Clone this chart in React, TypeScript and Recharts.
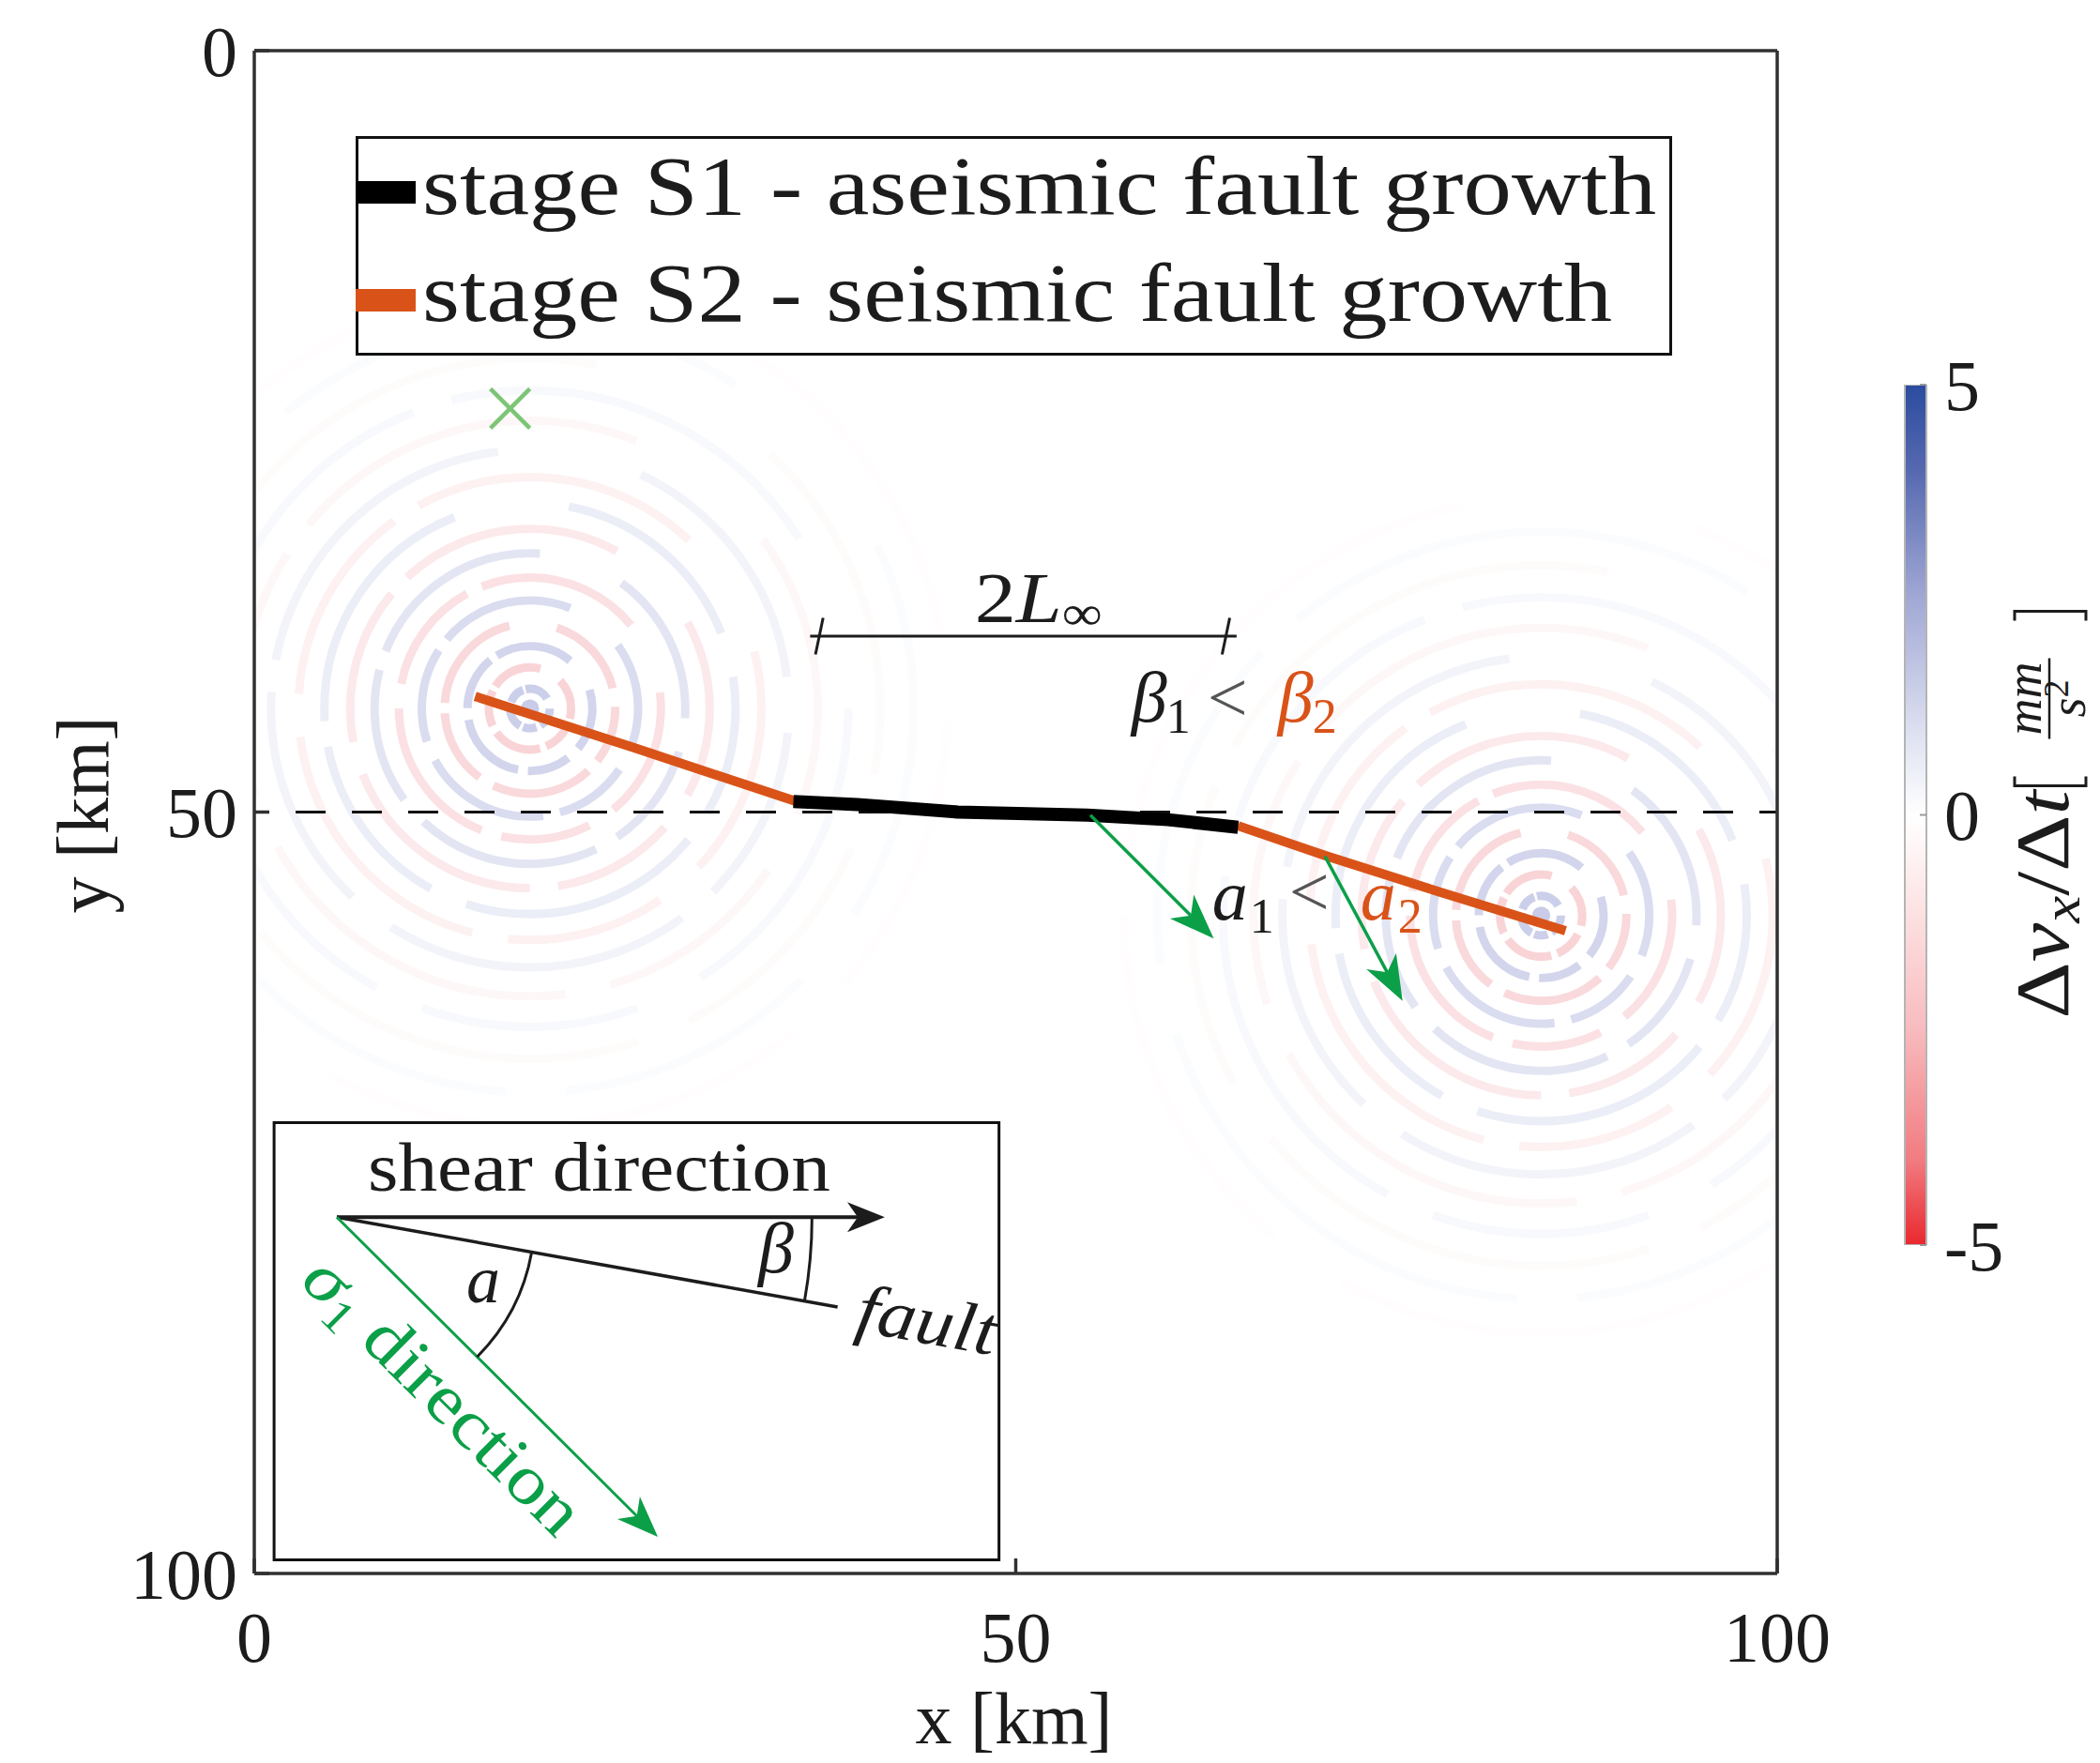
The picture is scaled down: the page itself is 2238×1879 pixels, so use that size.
import React from 'react';
import {
  ComposedChart,
  Line,
  Scatter,
  Bar,
  XAxis,
  YAxis,
  ReferenceLine,
  ReferenceArea,
  ReferenceDot,
  Legend,
} from 'recharts';

const SERIF = '"Liberation Serif", "Times New Roman", serif';
const INK = '#1c1c1c';
const FRAME = '#303030';
const ORANGE = '#d95319';
const GREEN = '#0b9f48';
const MARK_GREEN = '#7cc576';
const WAVE_BLUE = '#c3c7e6';
const WAVE_RED = '#f7c9cc';

const W = 2000;
const H = 1879;
const KM = 16.23; // px per km, 1623 px plot for 100 km on both axes

const axisTicks = [0, 50, 100];
const midTicks = [50];
const cbTicks = [-5, 0, 5];

// fault traces (km)
const s2West = [
  { x: 14.5, y: 42.4 },
  { x: 25.0, y: 45.8 },
  { x: 35.6, y: 49.3 },
];
const s1Trace = [
  { x: 35.4, y: 49.3 },
  { x: 39.6, y: 49.5 },
  { x: 46.2, y: 50.0 },
  { x: 54.7, y: 50.2 },
  { x: 60.0, y: 50.5 },
  { x: 64.6, y: 51.0 },
];
const s2East = [
  { x: 64.6, y: 50.9 },
  { x: 70.3, y: 52.85 },
  { x: 78.0, y: 55.3 },
  { x: 86.1, y: 57.8 },
];

// sigma_1 arrows drawn from the fault
const sigmaArrows = [
  { from: { x: 54.9, y: 50.2 }, to: { x: 63.0, y: 58.3 } },
  { from: { x: 70.3, y: 52.9 }, to: { x: 75.4, y: 62.4 } },
];

const hypocentre = [{ x: 16.8, y: 23.5 }];

// radiated waves around both crack tips
const waveSources = [
  { x: 18.1, y: 43.2 },
  { x: 84.5, y: 56.8 },
];
const ringRadius = [1.3, 2.7, 4.1, 5.6, 7.1, 8.6, 10.2, 11.8, 13.5, 15.2, 17.0, 18.9, 20.9, 23.0, 25.2, 27.4];
const ringSign = [1, -1, 1, -1, 1, -1, 1, -1, 1, -1, 1, -1, 1, -1, 1, -1];
const ringLevel = [0.85, 0.8, 0.75, 0.7, 0.62, 0.55, 0.47, 0.4, 0.33, 0.26, 0.2, 0.15, 0.11, 0.08, 0.06, 0.045];
const ringPhase = [0.0, 0.12, 0.05, 0.2, 0.1, 0.02, 0.15, 0.08, 0.22, 0.04, 0.18, 0.1, 0.0, 0.13, 0.07, 0.19];
// broken-arc pattern as fractions of one ring circumference
const ringBreaks = [0.16, 0.035, 0.11, 0.025, 0.19, 0.03, 0.14, 0.02, 0.2, 0.09];

// 2L_inf span bar
const spanEnds = [36.5, 64.5];
const spanY = 38.45;
const spanTicks = [37.1, 63.8];

// inset sketch (km)
const insetBox = { x1: 1.3, x2: 48.9, y1: 70.4, y2: 99.1 };
const insetOrigin = { x: 5.42, y: 76.6 };
const insetShearTip = { x: 41.4, y: 76.6 };
const insetFaultEnd = { x: 38.3, y: 82.5 };
const insetSigmaTip = { x: 26.5, y: 97.6 };
const alphaArcKm = 13.0;
const betaArcKm = 31.2;

// text anchors (km)
const spanLabelAt = { x: 47.3, y: 37.5 };
const betaLabelAt = { x: 57.6, y: 44.05 };
const alphaLabelAt = { x: 62.9, y: 57.05 };
const shearLabelAt = { x: 22.64, y: 74.86 };
const insetAlphaAt = { x: 13.92, y: 82.19 };
const insetBetaAt = { x: 33.09, y: 80.22 };
const faultLabelAt = { x: 39.37, y: 84.04 };
const sigmaLabelAt = { x: 2.9, y: 80.9 };

const legendTextLength = [1315, 1268];

// colour bar
const colorbarData = [{ name: 'dvx', range: [-5, 5] }];
const colorStops = [
  ['0%', '#2b4c9f'],
  ['10%', '#5669b0'],
  ['25%', '#a2a9d5'],
  ['40%', '#dcdff0'],
  ['50%', '#ffffff'],
  ['60%', '#fde5e6'],
  ['75%', '#f8bbbe'],
  ['90%', '#f17c81'],
  ['100%', '#e9282e'],
];

const faultAngle = Math.atan2(insetFaultEnd.y - insetOrigin.y, insetFaultEnd.x - insetOrigin.x);
const sigmaAngle = Math.atan2(insetSigmaTip.y - insetOrigin.y, insetSigmaTip.x - insetOrigin.x);

function arrowShape(color: string, width: number, len: number, half: number) {
  return (p: any) => {
    const { x1, y1, x2, y2 } = p;
    const a = Math.atan2(y2 - y1, x2 - x1);
    const c = Math.cos(a);
    const s = Math.sin(a);
    const bx = x2 - len * c;
    const by = y2 - len * s;
    const nx = x2 - len * 0.72 * c;
    const ny = y2 - len * 0.72 * s;
    const pts = [
      [x2, y2],
      [bx - half * s, by + half * c],
      [nx, ny],
      [bx + half * s, by - half * c],
    ]
      .map((q) => q.join(','))
      .join(' ');
    return (
      <g>
        <line x1={x1} y1={y1} x2={nx} y2={ny} stroke={color} strokeWidth={width} />
        <polygon points={pts} fill={color} />
      </g>
    );
  };
}

const WaveRings = (p: any) => {
  const { cx, cy } = p;
  return (
    <g>
      {ringRadius.map((r, i) => {
        const rp = r * KM;
        const c = 2 * Math.PI * rp;
        return (
          <circle
            key={i}
            cx={cx}
            cy={cy}
            r={rp}
            fill="none"
            stroke={ringSign[i] > 0 ? WAVE_BLUE : WAVE_RED}
            strokeOpacity={ringLevel[i]}
            strokeWidth={0.55 * KM}
            strokeDasharray={ringBreaks.map((f) => f * c).join(' ')}
            strokeDashoffset={c * ringPhase[i]}
          />
        );
      })}
      <circle cx={cx} cy={cy} r={0.6 * KM} fill={WAVE_BLUE} fillOpacity={0.9} />
    </g>
  );
};

const Cross = (p: any) => (
  <g stroke={MARK_GREEN} strokeWidth={4.5}>
    <line x1={p.cx - 21} y1={p.cy - 21} x2={p.cx + 21} y2={p.cy + 21} />
    <line x1={p.cx - 21} y1={p.cy + 21} x2={p.cx + 21} y2={p.cy - 21} />
  </g>
);

const arcPath = (cx: number, cy: number, r: number, a0: number, a1: number) =>
  `M ${cx + r * Math.cos(a0)} ${cy + r * Math.sin(a0)} A ${r} ${r} 0 0 1 ${cx + r * Math.cos(a1)} ${cy + r * Math.sin(a1)}`;

const InsetArcs = (p: any) => (
  <g fill="none" stroke={INK} strokeWidth={3}>
    <path d={arcPath(p.cx, p.cy, alphaArcKm * KM, faultAngle, sigmaAngle)} />
    <path d={arcPath(p.cx, p.cy, betaArcKm * KM, 0, faultAngle)} />
  </g>
);

const textAt = (render: (x: number, y: number) => React.ReactNode) => (p: any) => <g>{render(p.cx, p.cy)}</g>;

const mathFont = { fontFamily: SERIF, fill: INK } as const;

const renderLegend = (props: any) => {
  const items = (props.payload || [])
    .filter((it: any) => it.type !== 'none' && it.value)
    .sort((a: any, b: any) => String(a.value).localeCompare(String(b.value)));
  return (
    <svg width={1403} height={234} style={{ display: 'block' }}>
      <rect x={1.5} y={1.5} width={1400} height={231} fill="#fff" stroke="#111" strokeWidth={3} />
      {items.map((it: any, i: number) => (
        <g key={String(it.value)}>
          <rect x={0} y={48 + i * 115} width={64} height={24} fill={it.color} />
          <text
            x={71}
            y={83 + i * 114}
            fontFamily={SERIF}
            fontSize={88}
            fill={INK}
            textLength={legendTextLength[i]}
            lengthAdjust="spacingAndGlyphs"
          >
            {it.value}
          </text>
        </g>
      ))}
    </svg>
  );
};

const xLabel = (p: any) => {
  const vb = p.viewBox;
  return (
    <text x={vb.x + vb.width / 2 - 2} y={vb.y + 181} textAnchor="middle" fontFamily={SERIF} fontSize={78} fill={INK}>
      x [km]
    </text>
  );
};

const yLabel = (p: any) => {
  const vb = p.viewBox;
  const cx = vb.x + 44;
  const cy = vb.y + vb.height / 2 + 3;
  return (
    <text x={cx} y={cy} transform={`rotate(-90, ${cx}, ${cy})`} textAnchor="middle" fontFamily={SERIF} fontSize={78} fill={INK}>
      y [km]
    </text>
  );
};

const cbLabel = (p: any) => {
  const vb = p.viewBox;
  const cx = vb.x + 151;
  const cy = vb.y + vb.height / 2 - 1;
  return (
    <g transform={`translate(${cx},${cy}) rotate(-90)`} fontFamily={SERIF} fill={INK}>
      <text x={-218} y={0} fontSize={80} textLength={243} lengthAdjust="spacingAndGlyphs">
        Δ<tspan fontStyle="italic">v</tspan>
        <tspan fontSize={56} fontStyle="italic" dy={12}>x</tspan>
        <tspan dy={-12}>/Δ</tspan>
        <tspan fontStyle="italic">t</tspan>
      </text>
      <path d="M 40 -57 H 30 V 19 H 40" fill="none" stroke={INK} strokeWidth={3} />
      <path d="M 206 -57 H 216 V 19 H 206" fill="none" stroke={INK} strokeWidth={3} />
      <text x={123} y={-29} fontSize={54} fontStyle="italic" textAnchor="middle">mm</text>
      <line x1={80} x2={166} y1={-20} y2={-20} stroke={INK} strokeWidth={2.5} />
      <text x={123} y={18} fontSize={54} fontStyle="italic" textAnchor="middle">
        s<tspan fontSize={38} fontStyle="normal" dy={-18}>2</tspan>
      </text>
    </g>
  );
};

const tickStyle = { fontFamily: SERIF, fontSize: 76, fill: INK };
const frameLine = { stroke: FRAME, strokeWidth: 3.5 };

export default function App() {
  return (
    <div style={{ position: 'absolute', left: 0, top: 0, width: 2238, height: H, background: '#fff' }}>
      <div style={{ position: 'absolute', left: 0, top: 0 }}>
        <ComposedChart width={W} height={H} margin={{ top: 44, right: 96, bottom: 12, left: 71 }}>
          {/* wave field */}
          <Scatter
            data={waveSources}
            shape={WaveRings}
            legendType="none"
            isAnimationActive={false}
            zIndex={50}
          />
          <ReferenceLine y={50} stroke="#111" strokeWidth={3} strokeDasharray="32 28" strokeDashoffset={16} zIndex={60} />
          <ReferenceArea
            x1={insetBox.x1}
            x2={insetBox.x2}
            y1={insetBox.y1}
            y2={insetBox.y2}
            fill="#fff"
            fillOpacity={1}
            stroke="#111"
            strokeWidth={3}
            zIndex={70}
          />

          {/* fault growth stages */}
          <Line
            data={s2West}
            dataKey="y"
            stroke={ORANGE}
            strokeWidth={10}
            dot={false}
            legendType="none"
            isAnimationActive={false}
            zIndex={400}
          />
          <Line
            data={s2East}
            dataKey="y"
            name="stage S2 - seismic fault growth"
            stroke={ORANGE}
            strokeWidth={10}
            dot={false}
            isAnimationActive={false}
            zIndex={400}
          />
          <Line
            data={s1Trace}
            dataKey="y"
            name="stage S1 - aseismic fault growth"
            stroke="#000"
            strokeWidth={14}
            dot={false}
            isAnimationActive={false}
            zIndex={410}
          />

          {sigmaArrows.map((a, i) => (
            <ReferenceLine
              key={`sig-${i}`}
              segment={[a.from, a.to]}
              stroke={GREEN}
              shape={arrowShape(GREEN, 3.5, 48, 18)}
              zIndex={450}
            />
          ))}

          {/* 2L_inf span */}
          <ReferenceLine
            segment={[{ x: spanEnds[0], y: spanY }, { x: spanEnds[1], y: spanY }]}
            stroke={INK}
            strokeWidth={3}
            zIndex={450}
          />
          {spanTicks.map((t) => (
            <ReferenceLine
              key={`tk-${t}`}
              segment={[{ x: t + 0.25, y: spanY - 1.2 }, { x: t - 0.25, y: spanY + 1.2 }]}
              stroke={INK}
              strokeWidth={3}
              zIndex={450}
            />
          ))}

          {/* inset: shear, fault and sigma_1 directions */}
          <ReferenceLine
            segment={[insetOrigin, insetShearTip]}
            stroke={INK}
            shape={arrowShape(INK, 4, 40, 16)}
            zIndex={450}
          />
          <ReferenceLine segment={[insetOrigin, insetFaultEnd]} stroke={INK} strokeWidth={3.5} zIndex={450} />
          <ReferenceLine
            segment={[insetOrigin, insetSigmaTip]}
            stroke={GREEN}
            shape={arrowShape(GREEN, 3, 44, 17)}
            zIndex={450}
          />
          <ReferenceDot x={insetOrigin.x} y={insetOrigin.y} r={0} shape={InsetArcs} zIndex={460} />

          <Scatter data={hypocentre} shape={Cross} legendType="none" isAnimationActive={false} zIndex={470} />

          {/* annotations */}
          <ReferenceDot
            x={spanLabelAt.x}
            y={spanLabelAt.y}
            r={0}
            zIndex={900}
            shape={textAt((x, y) => (
              <text x={x} y={y} fontSize={76} textLength={136} lengthAdjust="spacingAndGlyphs" {...mathFont}>
                2<tspan fontStyle="italic">L</tspan>
                <tspan fontSize={52} dy={8}>∞</tspan>
              </text>
            ))}
          />
          <ReferenceDot
            x={betaLabelAt.x}
            y={betaLabelAt.y}
            r={0}
            zIndex={900}
            shape={textAt((x, y) => (
              <g {...mathFont}>
                <text x={x} y={y} fontSize={76} fontStyle="italic">β</text>
                <text x={x + 37} y={y + 12} fontSize={52}>1</text>
                <text x={x + 81} y={y} fontSize={76} fill="#555">&lt;</text>
                <text x={x + 156} y={y} fontSize={76} fontStyle="italic" fill={ORANGE}>β</text>
                <text x={x + 193} y={y + 12} fontSize={52} fill={ORANGE}>2</text>
              </g>
            ))}
          />
          <ReferenceDot
            x={alphaLabelAt.x}
            y={alphaLabelAt.y}
            r={0}
            zIndex={900}
            shape={textAt((x, y) => (
              <g {...mathFont}>
                <text x={x} y={y} fontSize={76} fontStyle="italic">a</text>
                <text x={x + 40} y={y + 14} fontSize={52}>1</text>
                <text x={x + 82} y={y - 4} fontSize={76} fill="#555">&lt;</text>
                <text x={x + 158} y={y} fontSize={76} fontStyle="italic" fill={ORANGE}>a</text>
                <text x={x + 198} y={y + 14} fontSize={52} fill={ORANGE}>2</text>
              </g>
            ))}
          />
          <ReferenceDot
            x={shearLabelAt.x}
            y={shearLabelAt.y}
            r={0}
            zIndex={900}
            shape={textAt((x, y) => (
              <text x={x} y={y} fontSize={74} textAnchor="middle" textLength={493} lengthAdjust="spacingAndGlyphs" {...mathFont}>
                shear direction
              </text>
            ))}
          />
          <ReferenceDot
            x={insetAlphaAt.x}
            y={insetAlphaAt.y}
            r={0}
            zIndex={900}
            shape={textAt((x, y) => (
              <text x={x} y={y} fontSize={72} fontStyle="italic" {...mathFont}>a</text>
            ))}
          />
          <ReferenceDot
            x={insetBetaAt.x}
            y={insetBetaAt.y}
            r={0}
            zIndex={900}
            shape={textAt((x, y) => (
              <text x={x} y={y} fontSize={76} fontStyle="italic" {...mathFont}>β</text>
            ))}
          />
          <ReferenceDot
            x={faultLabelAt.x}
            y={faultLabelAt.y}
            r={0}
            zIndex={900}
            shape={textAt((x, y) => (
              <text
                x={x}
                y={y}
                fontSize={74}
                fontStyle="italic"
                textLength={150}
                lengthAdjust="spacingAndGlyphs"
                transform={`rotate(${(faultAngle * 180) / Math.PI}, ${x}, ${y})`}
                {...mathFont}
              >
                fault
              </text>
            ))}
          />
          <ReferenceDot
            x={sigmaLabelAt.x}
            y={sigmaLabelAt.y}
            r={0}
            zIndex={900}
            shape={textAt((x, y) => (
              <text
                x={x}
                y={y}
                fontSize={74}
                textLength={388}
                lengthAdjust="spacingAndGlyphs"
                transform={`rotate(${(sigmaAngle * 180) / Math.PI}, ${x}, ${y})`}
                fontFamily={SERIF}
                fill={GREEN}
              >
                <tspan fontStyle="italic">σ</tspan>
                <tspan fontSize={50} dy={12}>1</tspan>
                <tspan dy={-12}> direction</tspan>
              </text>
            ))}
          />

          <XAxis
            dataKey="x"
            type="number"
            domain={[0, 100]}
            ticks={axisTicks}
            interval={0}
            height={190}
            tickSize={-16}
            tickMargin={56}
            allowDataOverflow
            axisLine={frameLine}
            tickLine={frameLine}
            tick={tickStyle}
            label={xLabel}
          />
          <XAxis
            xAxisId="top"
            orientation="top"
            dataKey="x"
            type="number"
            domain={[0, 100]}
            ticks={midTicks}
            interval={0}
            height={10}
            tickSize={-16}
            allowDataOverflow
            axisLine={frameLine}
            tickLine={frameLine}
            tick={false}
          />
          <YAxis
            dataKey="y"
            type="number"
            domain={[0, 100]}
            reversed
            ticks={axisTicks}
            interval={0}
            width={200}
            tickSize={-16}
            tickMargin={34}
            allowDataOverflow
            axisLine={frameLine}
            tickLine={frameLine}
            tick={tickStyle}
            label={yLabel}
          />
          <YAxis
            yAxisId="right"
            orientation="right"
            dataKey="y"
            type="number"
            domain={[0, 100]}
            reversed
            ticks={midTicks}
            interval={0}
            width={10}
            tickSize={-16}
            allowDataOverflow
            axisLine={frameLine}
            tickLine={frameLine}
            tick={false}
          />
          <Legend
            content={renderLegend}
            layout="horizontal"
            verticalAlign="middle"
            align="center"
            wrapperStyle={{ left: 379, top: 145, width: 1403, height: 234, lineHeight: 0 }}
          />
        </ComposedChart>
      </div>

      {/* colour bar */}
      <div style={{ position: 'absolute', left: 1990, top: 0 }}>
        <ComposedChart
          width={248}
          height={H}
          data={colorbarData}
          margin={{ top: 410, right: 5, bottom: 552, left: 40 }}
          barCategoryGap={0}
        >
          <defs>
            <linearGradient id="cbGrad" x1="0" y1="0" x2="0" y2="1">
              {colorStops.map(([o, c]) => (
                <stop key={o} offset={o} stopColor={c} />
              ))}
            </linearGradient>
          </defs>
          <XAxis dataKey="name" hide />
          <YAxis
            orientation="right"
            type="number"
            domain={[-5, 5]}
            ticks={cbTicks}
            interval={0}
            width={180}
            tickSize={-7}
            tickMargin={26}
            allowDataOverflow
            axisLine={{ stroke: '#b4b4b4', strokeWidth: 2 }}
            tickLine={{ stroke: '#9a9a9a', strokeWidth: 2 }}
            tick={{ fontFamily: SERIF, fontSize: 76, fill: INK, textAnchor: 'start' }}
            label={cbLabel}
          />
          <Bar dataKey="range" fill="url(#cbGrad)" stroke="#b4b4b4" strokeWidth={2} isAnimationActive={false} />
        </ComposedChart>
      </div>
    </div>
  );
}
